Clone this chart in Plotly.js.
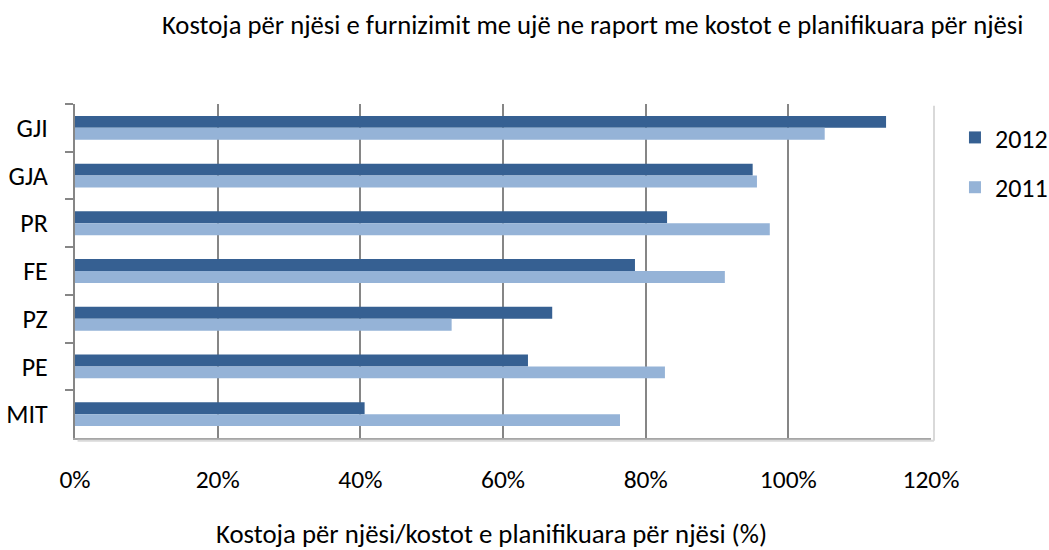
<!DOCTYPE html>
<html>
<head>
<meta charset="utf-8">
<script src="https://cdn.plot.ly/plotly-3.0.1.min.js"></script>
<style>html,body{margin:0;padding:0;background:#fff}#chart{width:1049px;height:550px}</style>
</head>
<body>
<div id="chart"></div>
<script>
const categories = ["GJI", "GJA", "PR", "FE", "PZ", "PE", "MIT"];
const values2012 = [1.137, 0.950, 0.830, 0.785, 0.669, 0.635, 0.406];
const values2011 = [1.051, 0.956, 0.974, 0.911, 0.528, 0.827, 0.764];
const tickVals = [0, 0.2, 0.4, 0.6, 0.8, 1.0, 1.2];
const tickLabels = ["0%", "20%", "40%", "60%", "80%", "100%", "120%"];
const titleText = "Kostoja për njësi e furnizimit me ujë ne raport me kostot e planifikuara për njësi";
const xTitleText = "Kostoja për njësi/kostot e planifikuara për njësi (%)";

const FONT = "Carlito, Lato, sans-serif";

const traces = [
  {type: "bar", orientation: "h", name: "2012", y: categories, x: values2012,
   marker: {color: "#366092"}, legendgroup: "a"},
  {type: "bar", orientation: "h", name: "2011", y: categories, x: values2011,
   marker: {color: "#95B3D7"}, legendgroup: "b"}
];

const layout = {
  width: 1049, height: 550,
  margin: {l: 75, r: 118, t: 104, b: 112, autoexpand: false},
  paper_bgcolor: "#ffffff", plot_bgcolor: "#ffffff",
  font: {family: FONT, size: 25.5, color: "#000000"},
  barmode: "group", bargap: 0.5, bargroupgap: 0,
  title: {text: titleText, x: 0.565, xanchor: "center", y: 0.955, yanchor: "middle",
          font: {family: FONT, size: 26.7, color: "#000000"}},
  xaxis: {
    range: [0, 1.2], tickvals: tickVals, ticktext: tickLabels,
    tickfont: {family: FONT, size: 25.5},
    showgrid: true, gridcolor: "#868686", gridwidth: 2,
    zeroline: false, showline: true, linecolor: "#a6a6a6", linewidth: 2,
    ticks: "", ticklabelstandoff: 17,
    fixedrange: true
  },
  yaxis: {
    type: "category", autorange: "reversed",
    tickfont: {family: FONT, size: 26},
    showline: true, linecolor: "#868686", linewidth: 2,
    ticks: "outside", tickson: "boundaries", ticklen: 8, tickcolor: "#868686", tickwidth: 2,
    showgrid: false, ticklabelstandoff: 20,
    fixedrange: true
  },
  annotations: [
    {text: xTitleText, xref: "paper", yref: "paper", x: 0.486, y: -0.287,
     xanchor: "center", yanchor: "middle", showarrow: false,
     font: {family: FONT, size: 26.8, color: "#000000"}}
  ],
  shapes: [
    {type: "line", xref: "paper", yref: "paper", x0: 1.0035, x1: 1.0035, y0: -0.008, y1: 0.995,
     line: {color: "#d9d9d9", width: 2}},
    {type: "line", xref: "paper", yref: "paper", x0: 0.003, x1: 1.0035, y0: -0.008, y1: -0.008,
     line: {color: "#d9d9d9", width: 2}}
  ],
  legend: {x: 1.028, y: 0.97, xanchor: "left", yanchor: "top",
           traceorder: "grouped", tracegroupgap: 13,
           font: {family: FONT, size: 26}, bgcolor: "rgba(0,0,0,0)"},
  showlegend: true
};

Plotly.newPlot("chart", traces, layout, {displayModeBar: false, staticPlot: true});
</script>
</body>
</html>
